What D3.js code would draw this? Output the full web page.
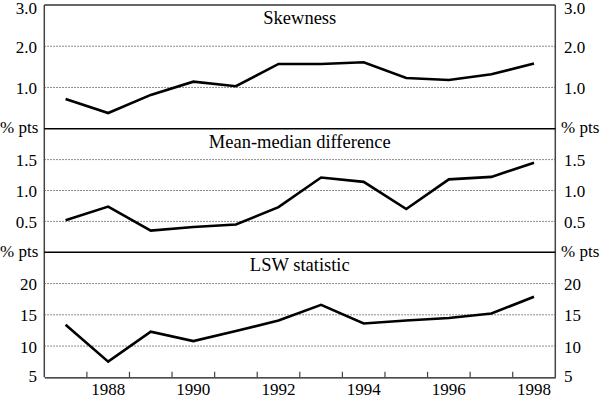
<!DOCTYPE html>
<html><head><meta charset="utf-8">
<script src="https://cdn.jsdelivr.net/npm/d3@7"></script>
<style>body{margin:0;background:#fff}svg{display:block}
svg text{font-family:"Liberation Serif","DejaVu Serif","Times New Roman",Times,serif;}</style>
</head><body><svg id="c" width="600" height="398"></svg>
<script>
const years = [1987,1988,1989,1990,1991,1992,1993,1994,1995,1996,1997,1998];
const yearLabels = [1988,1990,1992,1994,1996,1998];
const skewness = [0.72,0.38,0.82,1.14,1.03,1.57,1.57,1.61,1.23,1.18,1.32,1.58];
const meanMedian = [0.52,0.74,0.35,0.41,0.45,0.73,1.21,1.14,0.70,1.18,1.22,1.45];
const lsw = [13.4,7.5,12.3,10.8,12.4,14.1,16.6,13.6,14.1,14.5,15.2,17.9];
const panelTitles = ["Skewness","Mean-median difference","LSW statistic"];
const domains = [[0,3],[0,2],[5,25]];
const tickSets = [[1,2,3],[0.5,1,1.5],[5,10,15,20]];
const tickFormats = [d3.format(".1f"), d3.format(".1f"), d3.format("d")];
const unitLabels = [null,"% pts","% pts"];

const svg = d3.select("#c");
const L = 44.3, R = 555.3;
const bounds = [5, 128.7, 252.3, 377.3];
const x = d3.scaleBand().domain(years).range([L,R]).paddingInner(0).paddingOuter(0);
const series = [skewness, meanMedian, lsw];

series.forEach((vals,i)=>{
  const top = bounds[i], bot = bounds[i+1];
  const y = d3.scaleLinear().domain(domains[i]).range([bot, top]);
  const g = svg.append("g");
  tickSets[i].forEach(t=>{
    const yy = y(t);
    if (Math.abs(yy-top)<1 || Math.abs(yy-bot)<1) return;
    g.append("line").attr("x1",L).attr("x2",R).attr("y1",yy).attr("y2",yy)
      .attr("stroke","#666").attr("stroke-width",1).attr("stroke-dasharray","1.5,1.5");
  });
  tickSets[i].forEach(t=>{
    const yy = Math.max(y(t), 7.5);
    const dy = (i===2 && t===5) ? "0.3em" : "0.38em";
    g.append("text").attr("x",37).attr("y",yy).attr("dy",dy).attr("text-anchor","end")
      .attr("font-size","17px").text(tickFormats[i](t));
    g.append("text").attr("x",564).attr("y",yy).attr("dy",dy).attr("text-anchor","start")
      .attr("font-size","17px").text(tickFormats[i](t));
  });
  if (unitLabels[i]) {
    g.append("text").attr("x",0).attr("y",top+4.5).attr("font-size","17px").text(unitLabels[i]);
    g.append("text").attr("x",561).attr("y",top+4.5).attr("font-size","17px").text(unitLabels[i]);
  }
  g.append("text").attr("x",(L+R)/2).attr("y",top+19).attr("text-anchor","middle")
    .attr("font-size","18.5px").text(panelTitles[i]);
  const line = d3.line().x((d,j)=>x(years[j])+x.bandwidth()/2).y(d=>y(d));
  g.append("path").datum(vals).attr("d",line).attr("fill","none")
    .attr("stroke","#000").attr("stroke-width",2.6).attr("stroke-linejoin","miter");
});

svg.append("line").attr("x1",L).attr("x2",L).attr("y1",bounds[0]).attr("y2",bounds[3]).attr("stroke","#444").attr("stroke-width",1.5);
svg.append("line").attr("x1",R).attr("x2",R).attr("y1",bounds[0]).attr("y2",bounds[3]).attr("stroke","#444").attr("stroke-width",1.5);
svg.append("line").attr("x1",L).attr("x2",R).attr("y1",bounds[0]).attr("y2",bounds[0]).attr("stroke","#333").attr("stroke-width",1.5);
[bounds[1],bounds[2]].forEach(b=>{
  svg.append("line").attr("x1",L).attr("x2",R).attr("y1",b).attr("y2",b).attr("stroke","#000").attr("stroke-width",1.6);
});
const xAxis = d3.axisBottom(x).tickValues([]).tickSizeOuter(0);
const ax = svg.append("g").attr("transform",`translate(0,${bounds[3]})`).call(xAxis);
ax.select(".domain").attr("stroke","#111").attr("stroke-width",1.2);
years.slice(1).forEach(yr=>{
  const xx = x(yr);
  svg.append("line").attr("x1",xx).attr("x2",xx).attr("y1",bounds[3]).attr("y2",bounds[3]-5.5)
    .attr("stroke","#444").attr("stroke-width",1.2);
});
yearLabels.forEach(yr=>{
  svg.append("text").attr("x",x(yr)+x.bandwidth()/2).attr("y",395).attr("text-anchor","middle")
    .attr("font-size","17px").text(yr);
});
</script></body></html>
